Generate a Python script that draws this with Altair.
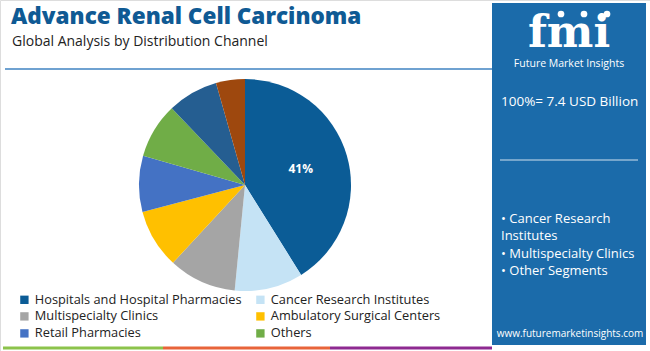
import altair as alt
import pandas as pd

categories = ["Hospitals and Hospital Pharmacies", "Cancer Research Institutes",
              "Multispecialty Clinics", "Ambulatory Surgical Centers",
              "Retail Pharmacies", "Others", "Other A", "Other B"]
shares = [41.0, 10.4, 10.3, 9.0, 8.5, 8.4, 7.7, 4.4]
labels = ["41%", "", "", "", "", "", "", ""]
colors = ["#0B5C96", "#C5E3F5", "#A5A5A5", "#FFC000", "#4472C4", "#70AD47", "#255E91", "#9E480E"]
# legend entries laid out column by column so the rows read as in the reference
legend_items = ["Hospitals and Hospital Pharmacies", "Multispecialty Clinics",
                "Retail Pharmacies", "Cancer Research Institutes",
                "Ambulatory Surgical Centers", "Others"]

FONT = "Open Sans"

pie_df = pd.DataFrame({"cat": categories, "share": shares, "label": labels,
                       "idx": list(range(len(categories)))})

color_scale = alt.Scale(domain=categories, range=colors)

base = alt.Chart(pie_df)

pie = base.mark_arc(radius=106, stroke=None).encode(
    theta=alt.Theta("share:Q", stack=True),
    order=alt.Order("idx:Q"),
    color=alt.Color("cat:N", scale=color_scale, sort=categories,
                    legend=alt.Legend(values=legend_items, title=None, orient="none",
                                      legendX=18, legendY=293, columns=2,
                                      symbolType="square", symbolSize=70,
                                      symbolStrokeWidth=0, labelFont=FONT,
                                      labelFontSize=12.8, labelColor="#222222",
                                      columnPadding=12, rowPadding=3,
                                      labelLimit=300)),
    x=alt.value(245), y=alt.value(185)
)

pie_label = base.mark_text(radius=58, font=FONT, fontSize=12, fontWeight="bold",
                           color="white").encode(
    theta=alt.Theta("share:Q", stack=True),
    order=alt.Order("idx:Q"),
    text="label:N",
    x=alt.value(245), y=alt.value(185)
)

one = pd.DataFrame({"a": [0]})
ob = alt.Chart(one)

title = ob.mark_text(text="Advance Renal Cell Carcinoma", font=FONT, fontSize=22.5,
                     fontWeight=800, color="#0F5A94", align="left",
                     baseline="alphabetic").encode(x=alt.value(11), y=alt.value(24))
subtitle = ob.mark_text(text="Global Analysis by Distribution Channel", font=FONT,
                        fontSize=14, color="#222222", align="left",
                        baseline="alphabetic").encode(x=alt.value(12), y=alt.value(46))
top_line = ob.mark_rule(color="#3F83C2", strokeWidth=1.5).encode(
    x=alt.value(5), x2=alt.value(492), y=alt.value(69))

panel = ob.mark_rect(color="#1B6BAA").encode(
    x=alt.value(492), x2=alt.value(646), y=alt.value(3), y2=alt.value(345))

logo = ob.mark_text(text="fmi", font="DejaVu Serif", fontSize=44, fontWeight="bold",
                    color="white", align="center", baseline="alphabetic").encode(
    x=alt.value(569), y=alt.value(47))
logo_dots = pd.DataFrame({"dx": [561, 584, 607]})
dots = alt.Chart(logo_dots).mark_circle(color="white", size=45, opacity=1).encode(
    x=alt.X("dx:Q", scale=None), y=alt.value(14))
logo_sub = ob.mark_text(text="Future Market Insights", font=FONT, fontSize=10.5,
                        color="white", align="center", baseline="alphabetic").encode(
    x=alt.value(569), y=alt.value(67))

panel_texts = pd.DataFrame({
    "t": ["100%= 7.4 USD Billion", "\u2022 Cancer Research", "Institutes",
          "\u2022 Multispecialty Clinics", "\u2022 Other Segments"],
    "y": [106, 223, 240, 258, 275],
    "size": [13.5, 13, 13, 13, 13],
})
ptext = alt.Chart(panel_texts).mark_text(font=FONT, color="white", align="left",
                                         baseline="alphabetic").encode(
    x=alt.value(501), y=alt.Y("y:Q", scale=None), text="t:N",
    size=alt.Size("size:Q", scale=None, legend=None))

panel_line = ob.mark_rule(color="white", strokeWidth=1, opacity=0.8).encode(
    x=alt.value(500), x2=alt.value(638), y=alt.value(160))

url = ob.mark_text(text="www.futuremarketinsights.com", font=FONT, fontSize=10,
                   color="white", align="center", baseline="alphabetic").encode(
    x=alt.value(570), y=alt.value(337))

bottom_df = pd.DataFrame({"x0": [3, 163, 330], "x1": [163, 330, 492],
                          "c": ["#8CC34B", "#E8643A", "#8E2A91"]})
bottom = alt.Chart(bottom_df).mark_rule(strokeWidth=3).encode(
    x=alt.X("x0:Q", scale=None), x2="x1:Q", y=alt.value(348),
    color=alt.Color("c:N", scale=None))

chart = alt.layer(
    panel, top_line, bottom, title, subtitle, pie, pie_label,
    logo, dots, logo_sub, ptext, panel_line, url
).properties(
    width=650, height=351,
    autosize=alt.AutoSizeParams(type="none"),
    padding=0,
).configure_view(stroke=None).configure(background="white")

chart.save("out.html", embed_options={"renderer": "svg", "actions": False})
